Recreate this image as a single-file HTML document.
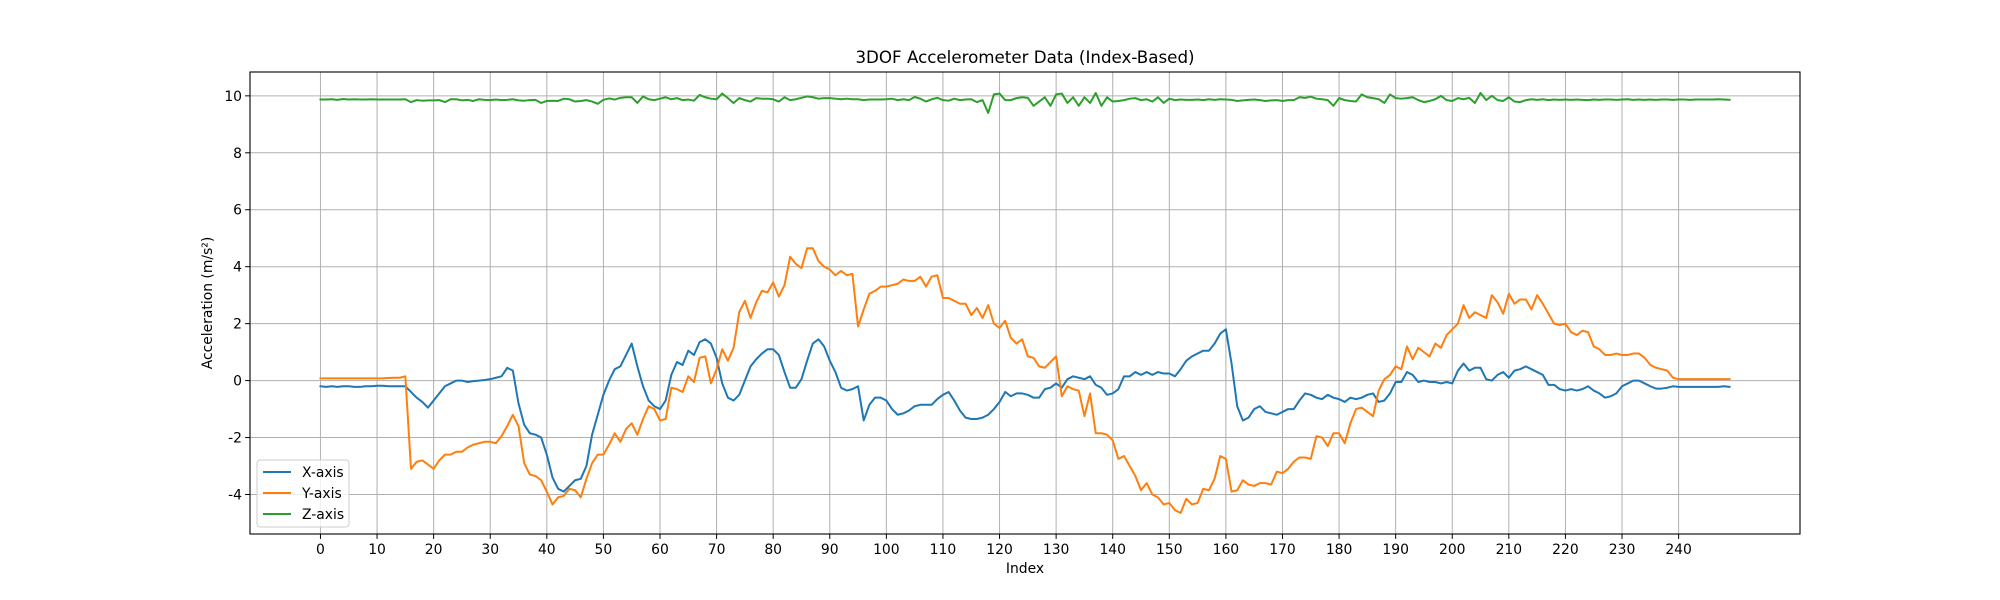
<!DOCTYPE html>
<html><head><meta charset="utf-8"><style>
body{margin:0;background:#fff;}
svg{display:block;font-family:"DejaVu Sans","Liberation Sans",sans-serif;}
</style></head><body>
<svg id="chart" width="2000" height="600" viewBox="0 0 2000 600">
<rect width="2000" height="600" fill="#fff"/>
<g id="grid"></g>
<g id="series"></g>
<rect x="250" y="72" width="1550" height="462" fill="none" stroke="#000" stroke-width="1.1"/>
<g id="ticks"></g>
<text x="1025" y="63" text-anchor="middle" font-size="16.7">3DOF Accelerometer Data (Index-Based)</text>
<text x="1025" y="573" text-anchor="middle" font-size="13.9">Index</text>
<text transform="translate(212,303) rotate(-90)" text-anchor="middle" font-size="13.9">Acceleration (m/s²)</text>
<g>
<rect x="257" y="460" width="92" height="67" rx="3" fill="#fff" fill-opacity="0.8" stroke="#ccc"/>
<g><line x1="263" y1="472" x2="291" y2="472" stroke="#1f77b4" stroke-width="2"/><text x="302" y="477" font-size="13.9">X-axis</text></g>
<g><line x1="263" y1="493" x2="291" y2="493" stroke="#ff7f0e" stroke-width="2"/><text x="302" y="498" font-size="13.9">Y-axis</text></g>
<g><line x1="263" y1="514" x2="291" y2="514" stroke="#2ca02c" stroke-width="2"/><text x="302" y="519" font-size="13.9">Z-axis</text></g>
</g>
</svg>
<script>
const xTicks=[0,10,20,30,40,50,60,70,80,90,100,110,120,130,140,150,160,170,180,190,200,210,220,230,240];
const yTicks=[-4,-2,0,2,4,6,8,10];
const xAxisVals=[-0.2,-0.22,-0.2,-0.22,-0.2,-0.2,-0.22,-0.22,-0.2,-0.2,-0.18,-0.18,-0.2,-0.2,-0.2,-0.2,-0.4,-0.6,-0.75,-0.95,-0.7,-0.45,-0.2,-0.1,0,0,-0.05,-0.02,0,0.02,0.05,0.1,0.15,0.45,0.35,-0.8,-1.55,-1.85,-1.9,-2.0,-2.6,-3.4,-3.8,-3.9,-3.7,-3.5,-3.45,-3.0,-1.9,-1.2,-0.5,0,0.4,0.5,0.9,1.3,0.5,-0.2,-0.7,-0.9,-1.0,-0.7,0.2,0.65,0.55,1.05,0.9,1.35,1.45,1.3,0.8,-0.1,-0.6,-0.7,-0.5,0,0.5,0.75,0.95,1.1,1.1,0.9,0.3,-0.25,-0.25,0.05,0.7,1.3,1.45,1.2,0.7,0.3,-0.25,-0.35,-0.3,-0.2,-1.4,-0.85,-0.6,-0.6,-0.7,-1.0,-1.2,-1.15,-1.05,-0.9,-0.85,-0.85,-0.85,-0.65,-0.5,-0.4,-0.7,-1.05,-1.3,-1.35,-1.35,-1.3,-1.2,-1.0,-0.75,-0.4,-0.55,-0.45,-0.45,-0.5,-0.6,-0.6,-0.3,-0.25,-0.1,-0.25,0.05,0.15,0.1,0.05,0.15,-0.15,-0.25,-0.5,-0.45,-0.3,0.15,0.15,0.3,0.2,0.3,0.2,0.3,0.25,0.25,0.15,0.4,0.7,0.85,0.95,1.05,1.05,1.3,1.65,1.8,0.6,-0.9,-1.4,-1.3,-1.0,-0.9,-1.1,-1.15,-1.2,-1.1,-1.0,-1.0,-0.7,-0.45,-0.5,-0.6,-0.65,-0.5,-0.6,-0.65,-0.75,-0.6,-0.65,-0.6,-0.5,-0.45,-0.75,-0.7,-0.45,-0.05,-0.05,0.3,0.2,-0.05,0,-0.05,-0.05,-0.1,-0.05,-0.1,0.35,0.6,0.35,0.45,0.45,0.05,0,0.2,0.3,0.1,0.35,0.4,0.5,0.4,0.3,0.2,-0.15,-0.15,-0.3,-0.35,-0.3,-0.35,-0.3,-0.2,-0.35,-0.45,-0.6,-0.55,-0.45,-0.2,-0.1,0,0,-0.1,-0.2,-0.28,-0.28,-0.25,-0.2,-0.22,-0.22,-0.22,-0.22,-0.22,-0.22,-0.22,-0.22,-0.2,-0.22];
const yAxisVals=[0.08,0.08,0.08,0.08,0.08,0.08,0.08,0.08,0.08,0.08,0.08,0.08,0.09,0.1,0.1,0.15,-3.1,-2.85,-2.8,-2.95,-3.1,-2.8,-2.6,-2.6,-2.5,-2.5,-2.35,-2.25,-2.2,-2.15,-2.15,-2.2,-1.95,-1.6,-1.2,-1.6,-2.9,-3.3,-3.35,-3.5,-3.9,-4.35,-4.1,-4.05,-3.8,-3.85,-4.1,-3.45,-2.9,-2.6,-2.6,-2.25,-1.85,-2.15,-1.7,-1.5,-1.9,-1.35,-0.9,-1.0,-1.4,-1.35,-0.25,-0.3,-0.4,0.15,-0.05,0.8,0.85,-0.1,0.4,1.1,0.7,1.15,2.4,2.8,2.2,2.75,3.15,3.1,3.45,2.95,3.35,4.35,4.1,3.95,4.65,4.65,4.2,4.0,3.9,3.7,3.85,3.7,3.75,1.9,2.5,3.05,3.15,3.3,3.3,3.35,3.4,3.55,3.5,3.5,3.65,3.3,3.65,3.7,2.9,2.9,2.8,2.7,2.7,2.3,2.55,2.2,2.65,2.0,1.85,2.1,1.5,1.3,1.45,0.85,0.8,0.5,0.45,0.65,0.85,-0.55,-0.2,-0.3,-0.35,-1.25,-0.45,-1.85,-1.85,-1.9,-2.1,-2.75,-2.65,-3.0,-3.35,-3.85,-3.6,-4.0,-4.1,-4.35,-4.3,-4.55,-4.65,-4.15,-4.35,-4.3,-3.8,-3.85,-3.45,-2.65,-2.75,-3.9,-3.85,-3.5,-3.65,-3.7,-3.6,-3.6,-3.65,-3.2,-3.25,-3.1,-2.85,-2.7,-2.7,-2.75,-1.95,-2.0,-2.3,-1.85,-1.85,-2.2,-1.5,-1.0,-0.95,-1.1,-1.25,-0.35,0.05,0.2,0.5,0.4,1.2,0.75,1.15,1.0,0.85,1.3,1.15,1.6,1.8,2.0,2.65,2.2,2.4,2.3,2.2,3.0,2.75,2.35,3.05,2.7,2.85,2.85,2.5,3.0,2.7,2.35,2.0,1.95,2.0,1.7,1.6,1.75,1.7,1.2,1.1,0.9,0.9,0.95,0.9,0.9,0.95,0.95,0.8,0.55,0.45,0.4,0.35,0.1,0.05,0.05,0.05,0.05,0.05,0.05,0.05,0.05,0.05,0.05];
const zAxisVals=[9.87,9.87,9.88,9.86,9.89,9.87,9.88,9.87,9.87,9.88,9.87,9.87,9.87,9.87,9.87,9.88,9.78,9.85,9.83,9.84,9.84,9.85,9.78,9.88,9.88,9.84,9.86,9.82,9.88,9.86,9.85,9.87,9.85,9.86,9.88,9.84,9.83,9.85,9.86,9.75,9.82,9.83,9.82,9.9,9.88,9.8,9.82,9.85,9.8,9.72,9.86,9.91,9.87,9.93,9.95,9.95,9.75,9.98,9.88,9.85,9.9,9.95,9.88,9.92,9.85,9.87,9.83,10.03,9.95,9.9,9.88,10.08,9.92,9.75,9.92,9.85,9.8,9.92,9.9,9.9,9.88,9.8,9.95,9.85,9.88,9.93,9.98,9.95,9.9,9.92,9.92,9.9,9.88,9.9,9.88,9.88,9.85,9.87,9.87,9.87,9.88,9.9,9.85,9.88,9.85,9.96,9.9,9.8,9.88,9.93,9.85,9.83,9.9,9.85,9.87,9.88,9.78,9.85,9.4,10.05,10.08,9.85,9.85,9.92,9.95,9.93,9.65,9.8,9.95,9.65,10.05,10.08,9.75,9.95,9.65,9.95,9.75,10.1,9.65,9.95,9.8,9.82,9.85,9.9,9.92,9.85,9.88,9.8,9.95,9.75,9.9,9.85,9.87,9.86,9.86,9.87,9.85,9.88,9.86,9.88,9.87,9.86,9.82,9.84,9.86,9.87,9.85,9.82,9.84,9.85,9.82,9.85,9.85,9.95,9.93,9.97,9.9,9.88,9.85,9.65,9.92,9.85,9.82,9.8,10.05,9.95,9.92,9.88,9.75,10.05,9.92,9.9,9.92,9.95,9.85,9.78,9.82,9.88,10.0,9.85,9.82,9.92,9.88,9.93,9.75,10.1,9.85,10.0,9.85,9.82,9.95,9.8,9.78,9.85,9.88,9.86,9.88,9.85,9.87,9.86,9.87,9.86,9.87,9.86,9.85,9.87,9.86,9.87,9.87,9.86,9.87,9.88,9.86,9.87,9.86,9.87,9.86,9.87,9.87,9.86,9.87,9.87,9.86,9.87,9.87,9.87,9.87,9.88,9.87,9.86];

const NS="http://www.w3.org/2000/svg";
const L=250,R=1800,T=72,B=534;
const n=xAxisVals.length;
const allV=xAxisVals.concat(yAxisVals,zAxisVals);
const vmin=Math.min(...allV),vmax=Math.max(...allV);
const xmin=-(n-1)*0.05,xmax=(n-1)*1.05;
const ymin=vmin-(vmax-vmin)*0.05,ymax=vmax+(vmax-vmin)*0.05;
const sx=i=>L+(i-xmin)/(xmax-xmin)*(R-L);
const sy=v=>B-(v-ymin)/(ymax-ymin)*(B-T);
const grid=document.getElementById('grid'),ticks=document.getElementById('ticks'),ser=document.getElementById('series');
function mk(tag,attrs,parent){const e=document.createElementNS(NS,tag);for(const k in attrs)e.setAttribute(k,attrs[k]);parent.appendChild(e);return e;}
xTicks.forEach(t=>{
  const x=sx(t);
  const g=mk('line',{x1:x,x2:x,y1:T,y2:B,stroke:'#b0b0b0','stroke-width':1},grid);
  
  
  const tk=mk('line',{x1:x,x2:x,y1:B,y2:B+4.9,stroke:'#000','stroke-width':1},ticks);
  
  
  const lb=mk('text',{x:x,y:B+20,'text-anchor':'middle','font-size':13.9},ticks);
  lb.textContent=t;
  
  
});
yTicks.forEach(t=>{
  const y=sy(t);
  const g=mk('line',{x1:L,x2:R,y1:y,y2:y,stroke:'#b0b0b0','stroke-width':1},grid);
  
  
  const tk=mk('line',{x1:L-4.9,x2:L,y1:y,y2:y,stroke:'#000','stroke-width':1},ticks);
  
  
  const lb=mk('text',{x:L-8,y:y+5,'text-anchor':'end','font-size':13.9},ticks);
  lb.textContent=t;
  
  
});
[[xAxisVals,'#1f77b4','x-axis-line'],[yAxisVals,'#ff7f0e','y-axis-line'],[zAxisVals,'#2ca02c','z-axis-line']].forEach(([arr,c,name])=>{
  const d=arr.map((v,i)=>(i?'L':'M')+sx(i).toFixed(2)+','+sy(v).toFixed(2)).join('');
  const p=mk('path',{d:d,fill:'none',stroke:c,'stroke-width':2,'stroke-linejoin':'round','stroke-linecap':'square'},ser);
  
  
});
</script>
</body></html>
